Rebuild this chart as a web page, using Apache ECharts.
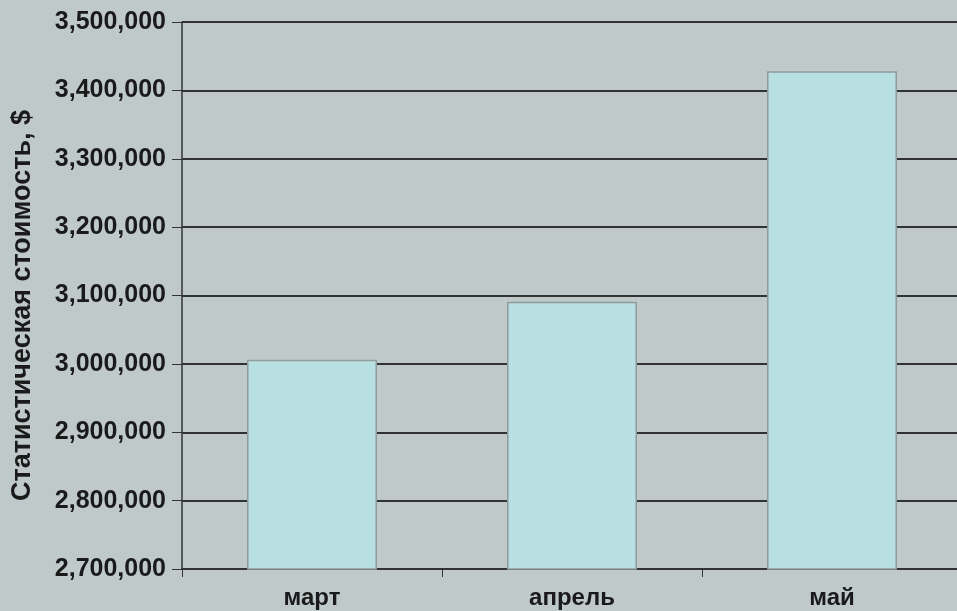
<!DOCTYPE html>
<html><head><meta charset="utf-8">
<script src="https://cdn.jsdelivr.net/npm/echarts@6/dist/echarts.min.js"></script>
<style>html,body{margin:0;padding:0;background:#bfc9ca}#c{width:957px;height:611px}</style>
</head><body><div id="c"></div>
<script>
const categories = ['март', 'апрель', 'май'];
const values = [3006000, 3091000, 3428000];
const yMin = 2700000, yMax = 3500000, yStep = 100000;
const yTitle = 'Статистическая стоимость, $';

const chart = echarts.init(document.getElementById('c'), null, {renderer: 'canvas'});
const font = 'Liberation Sans';
chart.setOption({
  backgroundColor: '#bfc9ca',
  animation: false,
  grid: {left: 182, width: 780, top: 22, bottom: 42, outerBoundsMode: 'none', containLabel: false},
  xAxis: {
    type: 'category', data: categories,
    axisLine: {show: true, lineStyle: {color: '#333', width: 2}},
    axisTick: {show: true, inside: false, length: 8, lineStyle: {color: '#333', width: 1}},
    axisLabel: {color: '#1a1a1a', fontFamily: font, fontSize: 24, fontWeight: 'bold', margin: 17},
    splitLine: {show: false}
  },
  yAxis: {
    type: 'value', min: yMin, max: yMax, interval: yStep,
    name: yTitle, nameLocation: 'middle', nameGap: 146, nameRotate: 90,
    nameTextStyle: {color: '#1a1a1a', fontFamily: font, fontSize: 27, fontWeight: 'bold', padding: [0, 20, 0, 0]},
    axisLine: {show: true, lineStyle: {color: '#333', width: 1.5}},
    axisTick: {show: true, length: 10, lineStyle: {color: '#333', width: 1}},
    axisLabel: {color: '#1a1a1a', fontFamily: font, fontSize: 25, fontWeight: 'bold', margin: 16,
      formatter: v => v.toLocaleString('en-US')},
    splitLine: {show: true, lineStyle: {color: '#333', width: 2}}
  },
  series: [{
    type: 'bar', data: values, barWidth: '50%',
    itemStyle: {color: '#b8dfe2', borderColor: '#8e9c9c', borderWidth: 1.5}
  }]
});
</script></body></html>
